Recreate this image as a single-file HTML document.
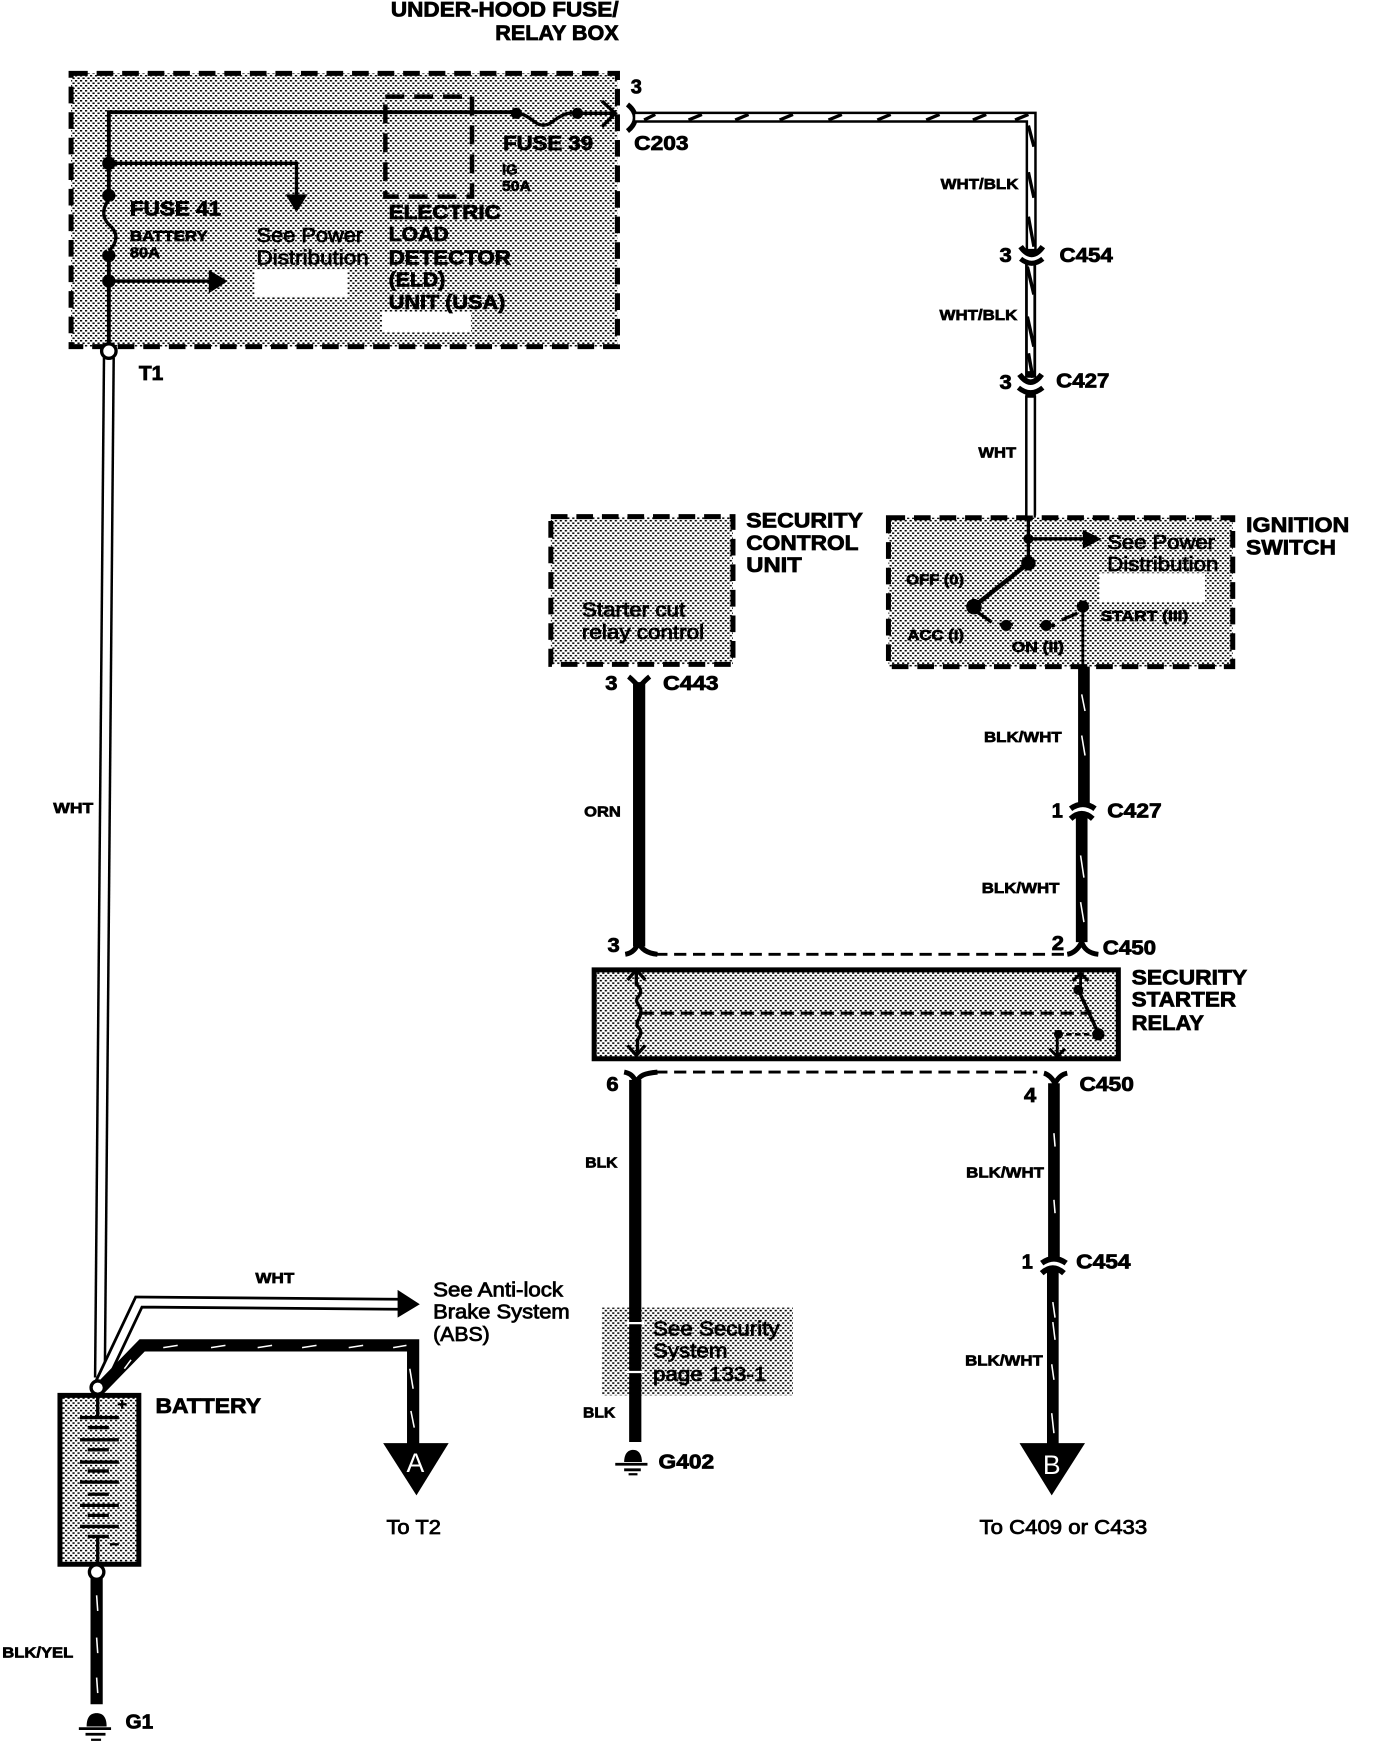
<!DOCTYPE html>
<html><head><meta charset="utf-8"><title>Security starter wiring diagram</title>
<style>
html,body{margin:0;padding:0;background:#fff;width:1376px;height:1742px;overflow:hidden}
svg{display:block}
text{font-family:"Liberation Sans",sans-serif;fill:#000;font-weight:bold;stroke:#000;stroke-width:.6}
.h{font-size:19px;stroke-width:.7}.m{font-size:18px;stroke-width:.7}.s{font-size:13.5px}.n{font-size:18px;font-weight:normal;stroke-width:.7}
.w{fill:#fff;stroke:none;font-weight:normal;font-size:24px;text-anchor:middle}
.k{fill:none;stroke:#000}
</style></head><body>
<svg xmlns="http://www.w3.org/2000/svg" width="1376" height="1742" viewBox="0 0 1239 1568" preserveAspectRatio="none">
<defs><pattern id="st" patternUnits="userSpaceOnUse" width="4.5" height="4.5"><rect width="4.5" height="4.5" fill="#fff"/><rect x="0" y="0" width="2" height="1.4" fill="#000"/><rect x="2.25" y="2.25" width="2" height="1.4" fill="#000"/></pattern></defs>
<rect width="1240" height="1570" fill="#fff"/>

<!-- Under-hood box -->
<rect x="64" y="66" width="492" height="246" fill="url(#st)" stroke="#000" stroke-width="4.5" stroke-dasharray="15 8"/>
<rect x="229" y="243" width="84" height="24" fill="#fff"/>
<rect x="344" y="281" width="80" height="18" fill="#fff"/>
<rect x="347" y="87" width="78" height="90" fill="none" stroke="#000" stroke-width="4" stroke-dasharray="17 9"/>
<path class="k" stroke-width="3.5" d="M98 312V101H465"/>
<path class="k" stroke-width="3" d="M465 102C478 102 482 116 493 112C501 109 505 100 520 102H552M542 91L554 102L542 114"/>
<circle cx="465" cy="102" r="5"/><circle cx="520" cy="102" r="5"/>
<path class="k" stroke-width="3" d="M98 147H267V178"/><path d="M257 175H277L267 191Z"/>
<circle cx="98" cy="147" r="6"/><circle cx="98" cy="176" r="6"/><circle cx="98" cy="230" r="6"/><circle cx="98" cy="253" r="6"/>
<rect x="96" y="181" width="5" height="45" fill="url(#st)"/>
<path class="k" stroke-width="3" d="M98 180C90 190 94 198 98 202C107 210 106 218 98 226"/>
<path class="k" stroke-width="3" d="M98 253H190"/><path d="M188 243L205 253L188 264Z"/>
<path class="k" stroke-width="4.5" d="M565 94C570 98 572 102 572 106C572 110 570 114 565 118"/>

<text class="m" x="453" y="135" textLength="81" lengthAdjust="spacingAndGlyphs">FUSE 39</text>
<text class="s" x="452" y="157" textLength="14" lengthAdjust="spacingAndGlyphs">IG</text>
<text class="s" x="452" y="172" textLength="26" lengthAdjust="spacingAndGlyphs">50A</text>
<text class="m" x="117" y="194" textLength="82" lengthAdjust="spacingAndGlyphs">FUSE 41</text>
<text class="s" x="117" y="217" textLength="70" lengthAdjust="spacingAndGlyphs">BATTERY</text>
<text class="s" x="117" y="232" textLength="27" lengthAdjust="spacingAndGlyphs">80A</text>
<text class="n" x="231" y="218" textLength="96" lengthAdjust="spacingAndGlyphs">See Power</text>
<text class="n" x="231" y="238" textLength="101" lengthAdjust="spacingAndGlyphs">Distribution</text>
<text class="m" x="350" y="197" textLength="101" lengthAdjust="spacingAndGlyphs">ELECTRIC</text>
<text class="m" x="350" y="217" textLength="54" lengthAdjust="spacingAndGlyphs">LOAD</text>
<text class="m" x="350" y="238" textLength="110" lengthAdjust="spacingAndGlyphs">DETECTOR</text>
<text class="m" x="350" y="258" textLength="51" lengthAdjust="spacingAndGlyphs">(ELD)</text>
<text class="m" x="350" y="278" textLength="105" lengthAdjust="spacingAndGlyphs">UNIT (USA)</text>
<text class="h" x="352" y="15" textLength="205" lengthAdjust="spacingAndGlyphs">UNDER-HOOD FUSE/</text>
<text class="h" x="446" y="36" textLength="111" lengthAdjust="spacingAndGlyphs">RELAY BOX</text>
<text class="m" x="568" y="84" textLength="10" lengthAdjust="spacingAndGlyphs">3</text>
<text class="m" x="571" y="135" textLength="49" lengthAdjust="spacingAndGlyphs">C203</text>
<text class="m" x="125" y="342" textLength="22" lengthAdjust="spacingAndGlyphs">T1</text>

<!-- WHT wire from T1 -->
<path class="k" stroke-width="11" d="M98 322L90 1240"/>
<path d="M98 322L90 1240" fill="none" stroke="#fff" stroke-width="6.5"/>
<circle cx="98" cy="316" r="6.5" fill="#fff" stroke="#000" stroke-width="3"/>
<text class="s" x="48" y="732" textLength="36" lengthAdjust="spacingAndGlyphs">WHT</text>

<!-- Top wire WHT/BLK -->
<path class="k" stroke-width="10" d="M572 105.5H928.5V229"/>
<path d="M572 105.5H928.5V224" fill="none" stroke="#fff" stroke-width="5.5"/>
<path class="k" stroke-width="3" d="M580 108L590 103M620 108L632 103M662 108L674 103M702 108L714 103M746 108L758 103M790 108L802 103M834 108L846 103M876 108L888 103M914 108L926 103M926 113L931 132M926 155L931 178M926 195L931 222"/>
<path class="k" stroke-width="10" d="M928 237V340"/>
<path d="M928 239V334" fill="none" stroke="#fff" stroke-width="5"/>
<path class="k" stroke-width="3.2" d="M925 240L931 265M925 285L931 312M926 318L930 340"/>
<path class="k" stroke-width="9.5" d="M928 354V466"/>
<path d="M928 358V470" fill="none" stroke="#fff" stroke-width="5.5"/>
<path class="k" stroke-width="5" d="M919 222Q929 236 939 222M918 337Q928 351 938 337"/>
<path class="k" stroke-width="4.5" d="M919 233Q929 241 939 233M917 349Q928 358 939 349"/>
<text class="s" x="847" y="170" textLength="70" lengthAdjust="spacingAndGlyphs">WHT/BLK</text>
<text class="m" x="900" y="236" textLength="11" lengthAdjust="spacingAndGlyphs">3</text>
<text class="m" x="954" y="236" textLength="48" lengthAdjust="spacingAndGlyphs">C454</text>
<text class="s" x="846" y="288" textLength="70" lengthAdjust="spacingAndGlyphs">WHT/BLK</text>
<text class="m" x="900" y="350" textLength="11" lengthAdjust="spacingAndGlyphs">3</text>
<text class="m" x="951" y="349" textLength="48" lengthAdjust="spacingAndGlyphs">C427</text>
<text class="s" x="881" y="412" textLength="34" lengthAdjust="spacingAndGlyphs">WHT</text>

<!-- Security control unit -->
<rect x="496" y="465" width="164" height="133" fill="url(#st)" stroke="#000" stroke-width="4.5" stroke-dasharray="15 8"/>
<text class="h" x="672" y="475" textLength="105" lengthAdjust="spacingAndGlyphs">SECURITY</text>
<text class="h" x="672" y="495" textLength="101" lengthAdjust="spacingAndGlyphs">CONTROL</text>
<text class="h" x="672" y="515" textLength="50" lengthAdjust="spacingAndGlyphs">UNIT</text>
<text class="n" x="524" y="555" textLength="93" lengthAdjust="spacingAndGlyphs">Starter cut</text>
<text class="n" x="524" y="575" textLength="110" lengthAdjust="spacingAndGlyphs">relay control</text>

<!-- Ignition switch -->
<rect x="800" y="466" width="310" height="134" fill="url(#st)" stroke="#000" stroke-width="4.5" stroke-dasharray="15 8"/>
<rect x="990" y="516" width="95" height="26" fill="#fff"/>
<path class="k" stroke-width="10" d="M928 356V464"/><path d="M928 358V464" fill="none" stroke="#fff" stroke-width="5.5"/>
<path class="k" stroke-width="3" d="M926 464V507M926 485H978"/><path d="M975 477L992 485L975 494Z"/>
<circle cx="926" cy="485" r="4.5"/><circle cx="926" cy="507" r="6.5"/>
<path class="k" stroke-width="4" d="M926 507L878 545"/><circle cx="877" cy="546" r="7"/>
<path class="k" stroke-width="3" d="M880 551L893 560M900 562H912M936 563H950M956 558L970 552"/>
<circle cx="906" cy="563" r="5"/><circle cx="942" cy="563" r="5"/><circle cx="975" cy="546" r="5.5"/>
<path class="k" stroke-width="2.5" d="M975 546V600"/>
<text class="s" x="816" y="526" textLength="52" lengthAdjust="spacingAndGlyphs">OFF (0)</text>
<text class="s" x="817" y="576" textLength="51" lengthAdjust="spacingAndGlyphs">ACC (I)</text>
<text class="s" x="911" y="587" textLength="47" lengthAdjust="spacingAndGlyphs">ON (II)</text>
<text class="s" x="991" y="559" textLength="79" lengthAdjust="spacingAndGlyphs">START (III)</text>
<text class="n" x="997" y="494" textLength="97" lengthAdjust="spacingAndGlyphs">See Power</text>
<text class="n" x="997" y="514" textLength="100" lengthAdjust="spacingAndGlyphs">Distribution</text>
<text class="h" x="1122" y="479" textLength="93" lengthAdjust="spacingAndGlyphs">IGNITION</text>
<text class="h" x="1122" y="499" textLength="81" lengthAdjust="spacingAndGlyphs">SWITCH</text>

<!-- ORN wire -->
<path class="k" stroke-width="11" d="M575.5 614V852"/>
<path class="k" stroke-width="4.5" d="M566 609C570 612 573 616 575.5 618C578 616 581 612 585 609"/>
<path class="k" stroke-width="4.5" d="M563 859C569 858 573 854 575 848C577 854 582 858 592 859"/>
<text class="m" x="545" y="621" textLength="11" lengthAdjust="spacingAndGlyphs">3</text>
<text class="m" x="597" y="621" textLength="50" lengthAdjust="spacingAndGlyphs">C443</text>
<text class="s" x="526" y="735" textLength="33" lengthAdjust="spacingAndGlyphs">ORN</text>

<!-- BLK/WHT upper -->
<path class="k" stroke-width="10.5" d="M976 600V724"/>
<path class="k" stroke-width="10.5" d="M974 734V848"/>
<path d="M974 625L977 640M974 662L977 680M973 770L976 790M973 812L976 830" fill="none" stroke="#fff" stroke-width="1.4"/>
<path class="k" stroke-width="5" d="M964 728Q975 720 986 728M964 737Q974 728 984 737"/>
<path class="k" stroke-width="4.5" d="M961 859C967 858 971 854 974 848C976 854 980 858 989 859"/>
<text class="s" x="886" y="668" textLength="70" lengthAdjust="spacingAndGlyphs">BLK/WHT</text>
<text class="m" x="947" y="736" textLength="10" lengthAdjust="spacingAndGlyphs">1</text>
<text class="m" x="997" y="736" textLength="49" lengthAdjust="spacingAndGlyphs">C427</text>
<text class="s" x="884" y="804" textLength="70" lengthAdjust="spacingAndGlyphs">BLK/WHT</text>
<text class="m" x="547" y="857" textLength="11" lengthAdjust="spacingAndGlyphs">3</text>
<text class="m" x="947" y="855" textLength="11" lengthAdjust="spacingAndGlyphs">2</text>
<text class="m" x="993" y="859" textLength="48" lengthAdjust="spacingAndGlyphs">C450</text>

<!-- Relay -->
<path class="k" stroke-width="2.6" stroke-dasharray="11 6" d="M590 859H958"/>
<path class="k" stroke-width="2.6" stroke-dasharray="11 6" d="M590 965H934"/>
<rect x="535" y="873" width="472" height="80" fill="url(#st)" stroke="#000" stroke-width="4.5"/>
<path class="k" stroke-width="3" d="M573 873V886C578 890 578 894 574 898C571 903 578 906 577 910C578 916 572 918 574 924C579 928 577 932 574 936V950M565 882L573 873L581 882M565 941L573 950L581 941"/>
<path class="k" stroke-width="2.8" stroke-dasharray="12 6" d="M577 912H983"/>
<path class="k" stroke-width="2.6" d="M973 876V888M966 883L973 876L980 883"/>
<circle cx="971" cy="891" r="4.5"/><path class="k" stroke-width="3.2" d="M971 891L989 930"/><circle cx="989" cy="931" r="5.5"/>
<path class="k" stroke-width="2.4" stroke-dasharray="5 3" d="M989 931H955"/><circle cx="953" cy="931" r="4"/>
<path class="k" stroke-width="2.6" d="M952 931V951M945 944L952 951L959 944"/>
<text class="h" x="1019" y="886" textLength="104" lengthAdjust="spacingAndGlyphs">SECURITY</text>
<text class="h" x="1019" y="906" textLength="94" lengthAdjust="spacingAndGlyphs">STARTER</text>
<text class="h" x="1019" y="927" textLength="65" lengthAdjust="spacingAndGlyphs">RELAY</text>

<!-- Lower connectors -->
<path class="k" stroke-width="4.5" d="M562 965C567 966 570 968 573 974C576 968 580 966 592 965M940 966C944 967 947 970 950 975C953 970 956 967 961 966"/>
<text class="m" x="546" y="982" textLength="11" lengthAdjust="spacingAndGlyphs">6</text>
<text class="m" x="922" y="992" textLength="11" lengthAdjust="spacingAndGlyphs">4</text>
<text class="m" x="972" y="982" textLength="49" lengthAdjust="spacingAndGlyphs">C450</text>

<!-- See Security -->
<rect x="542" y="1177" width="172" height="79" fill="url(#st)"/>
<path class="k" stroke-width="11" d="M572 972V1298"/>
<path d="M563 1191H580M563 1235H580" stroke="#fff" stroke-width="2" fill="none"/>
<text class="s" x="527" y="1051" textLength="29" lengthAdjust="spacingAndGlyphs">BLK</text>
<text class="s" x="525" y="1276" textLength="29" lengthAdjust="spacingAndGlyphs">BLK</text>
<text class="n" x="588" y="1202" textLength="114" lengthAdjust="spacingAndGlyphs">See Security</text>
<text class="n" x="588" y="1222" textLength="67" lengthAdjust="spacingAndGlyphs">System</text>
<text class="n" x="588" y="1243" textLength="102" lengthAdjust="spacingAndGlyphs">page 133-1</text>
<path d="M562 1316C562 1309 565 1305 570 1305C575 1305 578 1309 578 1316Z"/>
<path class="k" stroke-width="2.5" d="M554 1318H583M562 1323H577"/><path class="k" stroke-width="2" d="M566 1327H574"/>
<text class="m" x="593" y="1322" textLength="50" lengthAdjust="spacingAndGlyphs">G402</text>

<!-- Lower BLK/WHT -->
<path class="k" stroke-width="10.5" d="M949 975V1133"/>
<path class="k" stroke-width="10.5" d="M948 1143V1302"/>
<path d="M949 1020L950 1032M949 1080L950 1092M948 1172L950 1186M948 1190L950 1206M947 1228L949 1242M947 1272L949 1290" fill="none" stroke="#fff" stroke-width="1.4"/>
<path class="k" stroke-width="5" d="M938 1137Q949 1129 960 1137M938 1146Q948 1137 958 1146"/>
<path d="M918 1299H977L947 1346Z"/>
<text class="w" x="947" y="1327">B</text>
<text class="s" x="870" y="1060" textLength="70" lengthAdjust="spacingAndGlyphs">BLK/WHT</text>
<text class="m" x="920" y="1142" textLength="10" lengthAdjust="spacingAndGlyphs">1</text>
<text class="m" x="969" y="1142" textLength="49" lengthAdjust="spacingAndGlyphs">C454</text>
<text class="s" x="869" y="1229" textLength="70" lengthAdjust="spacingAndGlyphs">BLK/WHT</text>
<text class="n" x="882" y="1381" textLength="151" lengthAdjust="spacingAndGlyphs">To C409 or C433</text>

<!-- Branches at battery -->
<path class="k" stroke-width="11.5" d="M90 1246L125 1172L360 1174"/>
<path d="M90 1246L125 1172L360 1174" fill="none" stroke="#fff" stroke-width="6.5"/>
<path d="M358 1161L378 1174L358 1186Z"/>
<path d="M90 1250L128 1211H372V1300" fill="none" stroke="#000" stroke-width="11"/>
<path d="M147 1213L160 1211M190 1213L203 1211M232 1213L245 1211M272 1213L285 1211M314 1213L327 1211M354 1213L366 1211M369 1232L372 1250M370 1270L373 1285M112 1232L118 1224" fill="none" stroke="#fff" stroke-width="1.4"/>
<path d="M345 1299H404L375 1346Z"/>
<text class="w" x="374" y="1325">A</text>
<text class="s" x="230" y="1155" textLength="35" lengthAdjust="spacingAndGlyphs">WHT</text>
<text class="n" x="390" y="1167" textLength="117" lengthAdjust="spacingAndGlyphs">See Anti-lock</text>
<text class="n" x="390" y="1187" textLength="123" lengthAdjust="spacingAndGlyphs">Brake System</text>
<text class="n" x="390" y="1207" textLength="51" lengthAdjust="spacingAndGlyphs">(ABS)</text>
<text class="n" x="348" y="1381" textLength="49" lengthAdjust="spacingAndGlyphs">To T2</text>

<!-- Battery -->
<rect x="54" y="1256" width="71" height="152" fill="url(#st)" stroke="#000" stroke-width="4.5"/>
<path class="k" stroke-width="3" d="M88 1255V1276M72 1276H107M79 1285H98M72 1296H107M79 1305H98M72 1316H107M79 1324H98M72 1334H107M79 1345H98M72 1355H107M79 1364H98M72 1374H107M79 1383H98M88 1383V1408"/>
<path class="k" stroke-width="2" d="M106 1264H114M110 1260V1268M99 1390H107"/>
<circle cx="88" cy="1249" r="6" fill="#fff" stroke="#000" stroke-width="3"/>
<text class="h" x="140" y="1272" textLength="95" lengthAdjust="spacingAndGlyphs">BATTERY</text>
<path class="k" stroke-width="11" d="M87 1420V1534"/>
<path d="M87 1436L88 1450M87 1474L88 1488M87 1510L88 1524" fill="none" stroke="#fff" stroke-width="1.4"/>
<circle cx="87" cy="1415" r="6.5" fill="#fff" stroke="#000" stroke-width="3"/>
<path d="M78 1554C78 1546 81 1542 87 1542C93 1542 96 1546 96 1554Z"/>
<path class="k" stroke-width="2.5" d="M71 1556H100M77 1561H95"/><path class="k" stroke-width="2" d="M82 1566H91"/>
<text class="s" x="2" y="1492" textLength="64" lengthAdjust="spacingAndGlyphs">BLK/YEL</text>
<text class="m" x="113" y="1556" textLength="25" lengthAdjust="spacingAndGlyphs">G1</text>
</svg>
</body></html>
